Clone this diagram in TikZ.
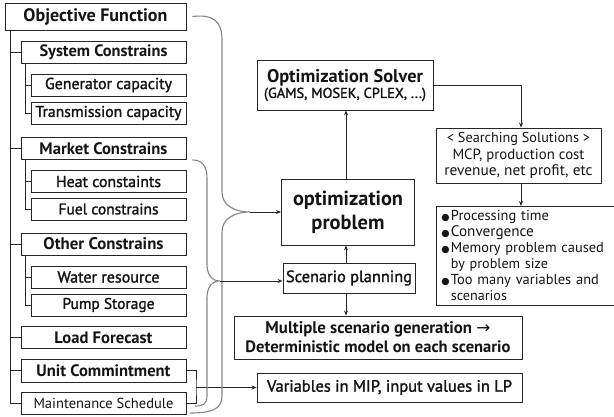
\documentclass[tikz,border=0pt]{standalone}
\usepackage{fontspec}
\usepackage{graphicx}
\setmainfont{PT Sans}
\newfontfamily\medfont[FakeBold=1.6]{PT Sans}
\newfontfamily\dejavu{DejaVu Sans}
\newcommand{\W}[2]{\resizebox{#1pt}{!}{#2}}
\usetikzlibrary{arrows.meta}
\begin{document}
\begin{tikzpicture}[x=1pt,y=-1pt,
 box/.style={draw=black!85, line width=0.9pt, inner sep=0pt, align=center, text=black!92},
 conn/.style={line width=0.8pt, draw=black!85},
 arr/.style={conn, -{Stealth[length=5pt,width=4pt]}},
 brace/.style={line width=1.1pt, draw=black!48},
 fA/.style={font=\fontsize{15}{18}\selectfont\bfseries},
 fC/.style={font=\fontsize{13}{16}\selectfont\medfont},
 lv0/.style={box, fA, minimum width=181pt, minimum height=27pt},
 lv1/.style={box, fA, minimum width=165pt, minimum height=22pt},
 lv2/.style={box, fC, minimum width=155pt, minimum height=22pt},
]
\useasboundingbox (0,0) rectangle (614,416);

% ---------- left tree ----------
\node[lv0] (obj) at (95.5,16.5) {\W{144}{Objective Function}};
\node[lv1] (sys) at (103.5,52.5) {\W{128}{System Constrains}};
\node[lv2] (gen) at (108.5,85) {\W{127}{Generator capacity}};
\node[lv2] (tra) at (108.5,113) {\W{146}{Transmission capacity}};
\node[lv1] (mkt) at (103.5,148.5) {\W{128}{Market Constrains}};
\node[lv2] (heat) at (108.5,181.5) {\W{105}{Heat constaints}};
\node[lv2] (fuel) at (108.5,209) {\W{100}{Fuel constrains}};
\node[lv1] (oth) at (103.5,244) {\W{120}{Other Constrains}};
\node[lv2] (wat) at (108.5,277) {\W{102}{Water resource}};
\node[lv2] (pump) at (108.5,305) {\W{92}{Pump Storage}};
\node[lv1] (load) at (103.5,337.5) {\W{98}{Load Forecast}};
\node[lv1,minimum height=23pt] (unit) at (103.5,370.5) {\W{134}{Unit Commintment}};
\node[lv1,font=\fontsize{12.5}{15}\selectfont] (mnt) at (103.5,403) {\W{140}{Maintenance Schedule}};

\draw[conn] ([xshift=6pt]obj.south west) |- (mnt.west);
\foreach \n in {sys,mkt,oth,load,unit}{\draw[conn] ([xshift=6pt]obj.south west) |- (\n.west);}
\foreach \p/\a/\b in {sys/gen/tra, mkt/heat/fuel, oth/wat/pump}{
  \draw[conn] ([xshift=5pt]\p.south west) |- (\a.west);
  \draw[conn] ([xshift=5pt]\p.south west) |- (\b.west);
}

% ---------- centre ----------
\node[box, minimum width=176pt, minimum height=50pt] (solver) at (345,85)
 {{\fontsize{15}{18}\selectfont\bfseries \W{156}{Optimization Solver}}\\[1pt]
  {\fontsize{11.5}{14}\selectfont\medfont \W{162}{(GAMS, MOSEK, CPLEX, ...)}}};
\node[box, minimum width=133pt, minimum height=66pt, font=\fontsize{17}{22}\selectfont\bfseries] (opt) at (348,212)
 {\W{110}{optimization}\\[2pt]\W{73}{problem}};
\node[box, minimum width=132pt, minimum height=30pt, font=\fontsize{13.5}{16}\selectfont\medfont] (scen) at (349,278)
 {\W{126}{Scenario planning}};
\node[box, minimum width=288pt, minimum height=43pt, font=\fontsize{13.5}{18}\selectfont\bfseries] (multi) at (378,337.5)
 {\W{225}{Multiple scenario generation {\dejavu\mdseries →}}\\[1pt]\W{265}{Deterministic model on each scenario}};
\node[box, minimum width=265pt, minimum height=29pt, font=\fontsize{13.5}{16}\selectfont\medfont] (var) at (389.5,387.5)
 {\W{245}{Variables in MIP, input values in LP}};

% ---------- right ----------
\node[box, minimum width=165pt, minimum height=55pt, font=\fontsize{12.5}{15.5}\selectfont] (search) at (518.5,155.5)
 {\W{143}{< Searching Solutions >}\\[1pt]\W{132}{MCP, production cost}\\[1pt]\W{148}{revenue, net profit, etc}};
\newcommand{\bul}{\makebox[9.5pt][l]{\dejavu\fontsize{9.5}{16}\selectfont ●}}
\node[box, anchor=north west, text width=180pt, inner xsep=5pt, minimum height=99pt, align=left,
      font=\fontsize{12.5}{16}\selectfont] (bullets) at (436,206)
 {\bul\W{98}{Processing time}\\
  \bul\W{83}{Convergence}\\
  \bul\W{153}{Memory problem caused}\\
  \hspace*{9.5pt}\W{97}{by problem size}\\
  \bul\W{148}{Too many variables and}\\
  \hspace*{9.5pt}\W{56}{scenarios}};

% ---------- connectors ----------
\draw[arr] (opt.north -| 346,0) -- (solver.south -| 346,0);
\draw[arr] (scen.north -| 346,0) -- (opt.south -| 346,0);
\draw[arr] (scen.south -| 346,0) -- (multi.north -| 346,0);
\draw[arr] (solver.east) -| ([xshift=2.5pt]search.north);
\draw[arr] ([xshift=2.5pt]search.south) -- ([xshift=2.5pt]search.south |- bullets.north);

\coordinate (ub) at (196,387.5);
\draw[conn] (unit.east) -| (ub) |- (mnt.east);
\draw[arr] (ub) -- (var.west);

% ---------- braces ----------
\coordinate (tA) at (250,212);
\coordinate (tB) at (220,281);
\draw[brace] ([xshift=6pt]obj.east) .. controls (214,14) and (222,22) .. (222,40)
  -- (222,192) .. controls (222,205) and (234,212) .. (tA)
  .. controls (234,212) and (222,219) .. (222,232)
  -- (222,396) .. controls (222,410) and (210,413) .. (190,413);
\draw[brace] ([xshift=6pt]mkt.south east) .. controls (202,160) and (207,166) .. (207,178)
  -- (207,264) .. controls (207,275) and (212,281) .. (tB)
  .. controls (212,281) and (207,287) .. (207,298)
  -- (207,396) .. controls (207,404) and (203,406) .. (195,406);
\draw[arr] (tA) -- (opt.west);
\draw[arr] (tB) -- (tB -| scen.west);
\end{tikzpicture}
\end{document}
